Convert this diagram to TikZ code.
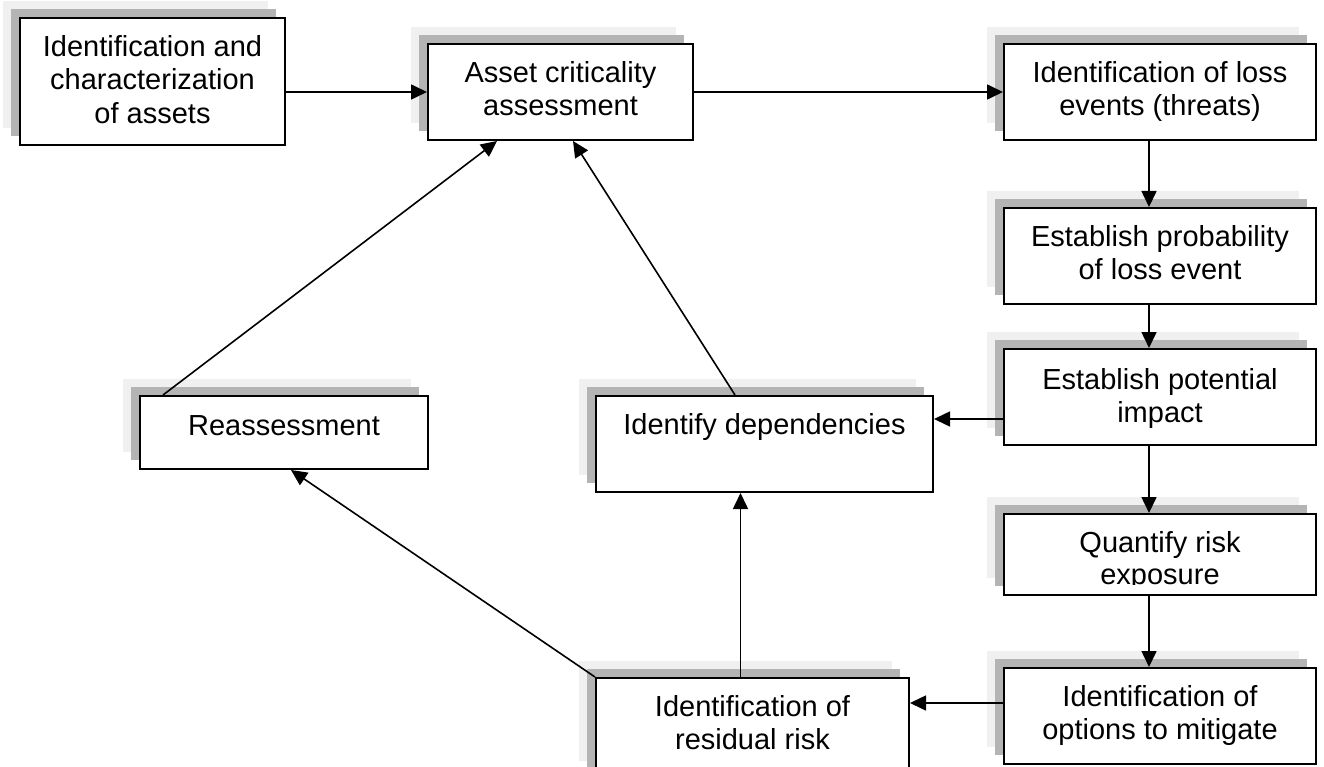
\documentclass[tikz,border=0pt]{standalone}
\usepackage{fontspec}
\setmainfont{Liberation Sans}
\usetikzlibrary{arrows.meta}
\definecolor{shlight}{RGB}{240,240,240}
\definecolor{shdark}{RGB}{180,180,180}
\tikzset{
  boxst/.style={draw=black, fill=white, line width=2pt, rectangle, inner sep=0pt, anchor=north west},
  txt/.style={anchor=north, align=center, inner sep=0pt, font=\fontsize{29}{33.5}\selectfont},
  arr/.style={line width=1.6pt, -{Triangle[length=16pt,width=15pt]}},
}
\newcommand\rboxshape[5]{%
  \fill[shlight] (#2-16,#3-16) rectangle ++(#4,#5);
  \fill[shdark] (#2-8,#3-8) rectangle ++(#4,#5);
  \node[boxst, minimum width=#4pt, minimum height=#5pt] (#1) at (#2,#3) {};
}
\begin{document}
\begin{tikzpicture}[x=1pt,y=-1pt]
\useasboundingbox (0,0) rectangle (1324,767);
\fill[white] (0,0) rectangle (1324,767);
\clip (0,0) rectangle (1324,767);

\rboxshape{A}{19}{17}{265}{127}
\node[txt] (At) at ([yshift=-18pt]A.north) {Identification and\\characterization\\of assets};

\rboxshape{B}{427}{43}{265}{96}
\node[txt] (Bt) at ([yshift=-18pt]B.north) {Asset criticality\\assessment};

\rboxshape{C}{1003}{43}{312}{96}
\node[txt] (Ct) at ([yshift=-18pt]C.north) {Identification of loss\\events (threats)};

\rboxshape{D}{1003}{207}{312}{96}
\node[txt] (Dt) at ([yshift=-18pt]D.north) {Establish probability\\of loss event};

\rboxshape{E}{1003}{348}{312}{96}
\node[txt] (Et) at ([yshift=-20pt]E.north) {Establish potential\\impact};

\rboxshape{F}{1003}{513}{312}{81}
\begin{scope}
  \clip (1003,513) rectangle (1315,584);
  \node[txt, font=\fontsize{29}{32}\selectfont] (Ft) at ([yshift=-18pt]F.north) {Quantify risk\\exposure};
\end{scope}

\rboxshape{G}{1003}{667}{312}{96}
\node[txt] (Gt) at ([yshift=-18pt]G.north) {Identification of\\options to mitigate};

\rboxshape{H}{595}{677}{313}{100}
\node[txt] (Ht) at ([yshift=-18pt]H.north) {Identification of\\residual risk};

\rboxshape{R}{139}{395}{288}{73}
\node[txt] (Rt) at ([yshift=-20pt]R.north) {Reassessment};

\rboxshape{K}{595}{395}{337}{96}
\node[txt] (Kt) at ([yshift=-18pt]K.north) {Identify dependencies};

% connectors
\draw[arr] (A.east |- B.west) -- (B.west);
\draw[arr] (B.east) -- (C.west);
\draw[arr] ([xshift=-11pt]C.south) -- ([xshift=-11pt]D.north);
\draw[arr] ([xshift=-11pt]D.south) -- ([xshift=-11pt]E.north);
\draw[arr] ([xshift=-11pt]E.south) -- ([xshift=-11pt]F.north);
\draw[arr] ([xshift=-11pt]F.south) -- ([xshift=-11pt]G.north);
\draw[arr] ([yshift=13pt]G.west) -- ([yshift=13pt]G.west -| H.east);
\draw[arr] ([yshift=-22pt]E.west) -- ([yshift=-22pt]E.west -| K.east);
\draw[arr] ([xshift=-12pt]H.north) -- ([xshift=-12pt]H.north |- K.south);
\draw[arr] (H.north west) -- ([xshift=7pt]R.south);
\draw[arr] ([xshift=24pt]R.north west) -- ([xshift=70pt]B.south west);
\draw[arr] ([xshift=140pt]K.north west) -- ([xshift=146pt]B.south west);
\end{tikzpicture}
\end{document}
